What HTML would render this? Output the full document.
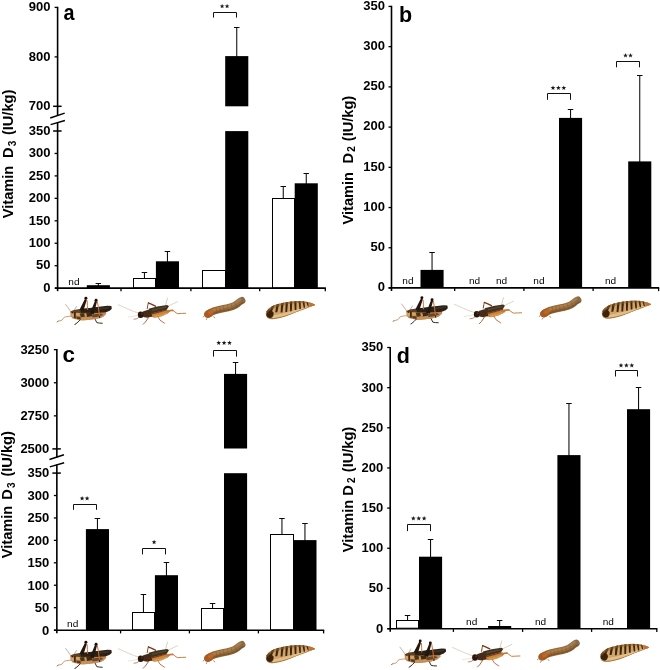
<!DOCTYPE html>
<html><head><meta charset="utf-8"><title>Vitamin D in insects</title>
<style>html,body{margin:0;padding:0;background:#fff}svg{display:block;will-change:transform}text{font-family:'Liberation Sans', sans-serif;fill:#000}</style>
</head><body>
<svg width="660" height="670" viewBox="0 0 660 670">
<rect width="660" height="670" fill="#fff"/>
<defs><filter id="soft" x="-5%" y="-20%" width="110%" height="140%"><feGaussianBlur stdDeviation="0.42"/></filter><linearGradient id="mwg" gradientUnits="userSpaceOnUse" x1="204" y1="0" x2="244" y2="0"><stop offset="0" stop-color="#a65a24"/><stop offset="0.3" stop-color="#9a6834"/><stop offset="0.7" stop-color="#96703f"/><stop offset="1" stop-color="#8a6a46"/></linearGradient><g id="insects" filter="url(#soft)"><polyline points="70.45,311.27 68.03,307.64 65.61,304.45" fill="none" stroke="#8a6444" stroke-width="0.5" stroke-linecap="round" stroke-linejoin="round" />
<polyline points="74.09,310.36 75.30,308.39 76.52,306.42" fill="none" stroke="#8a6444" stroke-width="0.5" stroke-linecap="round" stroke-linejoin="round" />
<polyline points="72.20,316.12 68.03,316.42 64.24,317.18 61.97,320.14 58.03,321.27" fill="none" stroke="#c89060" stroke-width="0.85" stroke-linecap="round" stroke-linejoin="round" />
<polyline points="58.03,321.27 57.12,321.88" fill="none" stroke="#7a5a3a" stroke-width="0.8" stroke-linecap="round" stroke-linejoin="round" />
<polygon points="70.30,311.58 74.09,310.06 80.15,309.15 90.00,308.39 99.09,307.64 105.91,311.88 106.29,313.85 102.88,316.88 96.82,318.70 91.52,319.61 84.70,320.21 80.15,320.21 75.61,319.30 72.58,318.39 70.61,315.97" fill="#b8824e" />
<polygon points="80.15,317.48 90.00,316.73 99.09,315.36 105.15,312.94 106.29,313.85 102.88,316.88 96.82,318.70 91.52,319.61 84.70,320.21 80.15,320.21" fill="#c8915a" />
<polygon points="70.61,311.58 74.09,310.06 80.15,309.00 90.00,308.09 99.09,307.03 99.09,311.88 90.00,312.64 80.15,312.94 74.09,312.48 70.91,312.64" fill="#4a3622" opacity="0.85"/>
<polygon points="80.15,309.15 90.00,308.09 99.09,307.03 99.09,311.88 90.00,312.64 80.91,312.79" fill="#2c2016" />
<polygon points="73.94,312.03 75.76,312.03 75.76,318.39 74.09,318.09" fill="#3a2a1a" />
<polygon points="79.85,313.39 84.39,312.94 85.15,316.42 80.91,317.18" fill="#4a3018" />
<polygon points="85.91,313.24 91.97,312.64 92.42,316.12 86.97,316.88" fill="#3e2a16" />
<polygon points="92.27,314.45 100.61,313.39 103.64,314.91 96.82,317.03 92.27,317.48" fill="#6a4626" />
<polygon points="76.06,316.58 80.45,316.88 80.76,319.30 76.97,319.00" fill="#553a1e" />
<polygon points="71.21,313.55 73.48,313.39 73.64,316.73 71.52,316.42" fill="#dca66a" />
<polygon points="76.06,313.09 79.55,312.94 79.85,315.97 76.36,316.27" fill="#d8a060" />
<polygon points="84.39,313.85 86.36,313.70 86.82,316.42 84.85,316.58" fill="#d09858" />
<polygon points="90.00,308.39 99.09,306.73 107.42,305.82 111.36,306.12 111.82,308.85 109.70,310.67 105.91,312.18 99.09,312.64 90.76,312.94" fill="#2a2016" />
<polygon points="99.09,308.09 107.42,307.03 110.45,307.48 107.42,308.85 99.09,309.76" fill="#3e3022" />
<polyline points="80.15,319.76 78.03,322.03 75.61,324.00" fill="none" stroke="#33261a" stroke-width="0.95" stroke-linecap="round" stroke-linejoin="round" />
<polyline points="75.61,324.00 74.70,324.45" fill="none" stroke="#33261a" stroke-width="0.7" stroke-linecap="round" stroke-linejoin="round" />
<polyline points="95.15,319.30 96.82,322.64 99.24,323.09 102.27,323.24" fill="none" stroke="#2e2218" stroke-width="0.95" stroke-linecap="round" stroke-linejoin="round" />
<polyline points="94.39,307.33 93.18,311.42 92.27,313.85" fill="none" stroke="#dcb488" stroke-width="0.8" stroke-linecap="round" stroke-linejoin="round" />
<polyline points="87.12,300.67 87.42,305.36 87.42,309.45" fill="none" stroke="#d96f3a" stroke-width="1.0" stroke-linecap="round" stroke-linejoin="round" />
<polygon points="79.39,309.91 83.48,310.52 86.82,299.76 84.85,299.00" fill="#221810" />
<circle cx="85.91" cy="298.24" r="1.45" fill="#120e0a"/>
<polyline points="97.42,301.58 98.64,309.15 99.55,316.42" fill="none" stroke="#d96f3a" stroke-width="1.0" stroke-linecap="round" stroke-linejoin="round" />
<polyline points="99.55,316.42 99.70,317.64" fill="none" stroke="#2a1a10" stroke-width="1.1" stroke-linecap="round" stroke-linejoin="round" />
<polygon points="90.00,313.39 93.79,314.30 96.97,301.58 95.00,300.82" fill="#221810" />
<circle cx="96.06" cy="300.21" r="1.45" fill="#120e0a"/>
<circle cx="72.58" cy="312.64" r="0.6" fill="#1e140c"/><polyline points="138.73,313.09 133.64,311.45 127.27,308.73 118.18,304.73" fill="none" stroke="#b09070" stroke-width="0.45" stroke-linecap="round" stroke-linejoin="round" opacity="0.85"/>
<polyline points="138.36,315.09 133.64,316.18 128.18,317.09" fill="none" stroke="#c8ae90" stroke-width="0.4" stroke-linecap="round" stroke-linejoin="round" opacity="0.8"/>
<polyline points="165.64,305.27 166.55,301.45 167.45,298.18" fill="none" stroke="#a88a68" stroke-width="0.5" stroke-linecap="round" stroke-linejoin="round" opacity="0.85"/>
<polyline points="168.36,306.18 172.73,304.00 177.64,301.64" fill="none" stroke="#b89a78" stroke-width="0.5" stroke-linecap="round" stroke-linejoin="round" opacity="0.85"/>
<polyline points="140.18,316.55 136.91,318.73 134.00,319.27" fill="none" stroke="#b87040" stroke-width="0.8" stroke-linecap="round" stroke-linejoin="round" />
<polygon points="151.45,313.82 160.00,312.18 168.18,309.64 170.18,311.27 168.18,313.27 161.82,316.36 154.55,317.64 150.55,316.73" fill="#c8843c" />
<polygon points="154.55,315.45 161.82,314.18 168.18,311.64 168.18,313.27 161.82,316.36 154.55,317.64" fill="#d69a50" />
<polygon points="142.73,311.45 148.18,309.64 151.45,310.55 152.18,316.55 147.27,317.82 143.27,317.09" fill="#4a2a14" />
<polygon points="148.55,308.73 157.27,306.55 167.27,305.09 168.91,306.36 166.73,309.64 159.09,311.64 151.45,313.45 149.45,312.00" fill="#3e3220" />
<polygon points="151.82,309.64 160.00,307.64 166.36,306.55 166.18,307.64 160.00,309.09 152.18,311.09" fill="#5a4a2e" />
<polygon points="151.45,313.09 159.09,311.27 166.73,309.27 167.27,310.36 160.00,312.55 151.82,314.55" fill="#7a3a18" />
<ellipse cx="140.73" cy="314.73" rx="2.9" ry="3.3" fill="#26170c"/>
<circle cx="141.64" cy="313.82" r="1.0" fill="#5a2e16"/>
<polyline points="147.27,308.55 147.82,305.09 148.36,302.91" fill="none" stroke="#8a4420" stroke-width="1.0" stroke-linecap="round" stroke-linejoin="round" />
<polyline points="148.36,302.91 151.82,304.36 155.45,306.18" fill="none" stroke="#7a3a1a" stroke-width="1.35" stroke-linecap="round" stroke-linejoin="round" />
<polyline points="166.73,312.00 170.00,310.55 172.73,310.36" fill="none" stroke="#c4783a" stroke-width="1.7" stroke-linecap="round" stroke-linejoin="round" />
<polyline points="172.73,310.36 177.27,313.64 181.45,313.45 185.64,313.27" fill="none" stroke="#c8803e" stroke-width="1.0" stroke-linecap="round" stroke-linejoin="round" />
<polyline points="148.73,317.27 145.27,322.18 143.27,324.18" fill="none" stroke="#a05628" stroke-width="0.9" stroke-linecap="round" stroke-linejoin="round" />
<polyline points="157.82,316.55 160.00,320.18 164.55,323.27" fill="none" stroke="#b4683a" stroke-width="0.9" stroke-linecap="round" stroke-linejoin="round" /><path d="M208.01 314.02 C212.42 310.62 217.51 309.61 223.45 308.59 S233.62 306.72 237.19 303.84 S240.83 301.12 241.77 300.62" fill="none" stroke="url(#mwg)" stroke-width="7.3" stroke-linecap="round"/>
<path d="M209.03 316.22 C213.44 312.83 218.36 311.81 223.95 310.79 S234.30 309.10 238.37 305.87 S242.11 302.99 243.12 302.31" fill="none" stroke="#6a4420" stroke-width="1.5" stroke-linecap="round" opacity="0.5"/>
<path d="M210.72 311.47 C214.12 309.10 218.36 308.08 223.45 307.06 S232.78 305.37 236.17 302.48 S239.56 299.94 240.41 299.43" fill="none" stroke="#b88a58" stroke-width="2.2" stroke-linecap="round" opacity="0.6"/>
<polyline points="215.98,307.40 217.17,312.83" fill="none" stroke="#70481f" stroke-width="0.55" stroke-linecap="round" stroke-linejoin="round" opacity="0.55"/>
<polyline points="219.71,306.72 220.56,312.15" fill="none" stroke="#70481f" stroke-width="0.55" stroke-linecap="round" stroke-linejoin="round" opacity="0.55"/>
<polyline points="223.45,306.04 224.12,311.47" fill="none" stroke="#70481f" stroke-width="0.55" stroke-linecap="round" stroke-linejoin="round" opacity="0.55"/>
<polyline points="227.35,305.37 228.20,310.62" fill="none" stroke="#70481f" stroke-width="0.55" stroke-linecap="round" stroke-linejoin="round" opacity="0.55"/>
<polyline points="231.25,304.35 232.61,309.44" fill="none" stroke="#70481f" stroke-width="0.55" stroke-linecap="round" stroke-linejoin="round" opacity="0.55"/>
<polyline points="234.64,302.14 236.85,306.72" fill="none" stroke="#70481f" stroke-width="0.55" stroke-linecap="round" stroke-linejoin="round" opacity="0.55"/>
<ellipse cx="208.86" cy="313.68" rx="5.0" ry="3.9" fill="#a95a22" transform="rotate(-28 208.86 313.68)"/>
<ellipse cx="210.72" cy="312.15" rx="3.0" ry="2.0" fill="#bb6a2c" transform="rotate(-28 210.72 312.15)" opacity="0.8"/>
<polyline points="204.11,316.22 203.09,317.07" fill="none" stroke="#6a4220" stroke-width="0.6" stroke-linecap="round" stroke-linejoin="round" />
<polyline points="206.82,318.60 206.31,319.61" fill="none" stroke="#6a4220" stroke-width="0.6" stroke-linecap="round" stroke-linejoin="round" />
<polyline points="213.78,316.73 214.62,317.92" fill="none" stroke="#6a4220" stroke-width="0.6" stroke-linecap="round" stroke-linejoin="round" /><clipPath id="zclip"><path d="M265.73 313.81 C265.90 310.42 269.63 307.45 273.03 305.84 C278.96 303.12 289.14 301.43 297.62 301.09 C304.41 300.92 310.35 302.62 314.93 304.48 L314.76 305.16 C309.50 307.03 301.86 310.08 295.93 312.28 C289.14 315.51 280.66 318.56 273.87 319.24 C269.63 319.75 265.90 318.05 265.73 313.81 Z" /></clipPath>
<path d="M265.73 313.81 C265.90 310.42 269.63 307.45 273.03 305.84 C278.96 303.12 289.14 301.43 297.62 301.09 C304.41 300.92 310.35 302.62 314.93 304.48 L314.76 305.16 C309.50 307.03 301.86 310.08 295.93 312.28 C289.14 315.51 280.66 318.56 273.87 319.24 C269.63 319.75 265.90 318.05 265.73 313.81 Z" fill="#d0a468"/>
<g clip-path="url(#zclip)">
<path d="M265.39 316.02 C275.57 316.02 289.99 312.12 315.01 303.80 L315.01 307.87 L265.39 321.45 Z" fill="#e2bf8a"/>
<polygon points="271.92,304.65 274.81,304.65 271.92,311.44 269.72,311.44" fill="#3e2610" />
<polygon points="276.59,303.12 279.30,303.12 277.27,312.28 275.23,312.28" fill="#3e2610" />
<polygon points="281.25,302.11 283.80,302.11 282.44,312.62 280.58,312.62" fill="#3e2610" />
<polygon points="285.62,301.43 288.08,301.43 287.15,312.12 285.37,312.12" fill="#3e2610" />
<polygon points="289.91,300.92 292.28,300.92 291.77,311.27 290.07,311.27" fill="#3e2610" />
<polygon points="294.19,300.58 296.48,300.58 296.39,310.08 294.78,310.08" fill="#3e2610" />
<polygon points="298.43,300.41 300.55,300.41 300.89,308.89 299.45,308.89" fill="#3e2610" />
<polygon points="302.29,300.58 304.32,300.58 305.09,307.70 303.73,307.70" fill="#3e2610" />
<polygon points="306.06,301.09 307.84,301.09 308.86,306.52 307.76,306.52" fill="#3e2610" />
<path d="M265.90 311.27 C269.63 306.18 284.05 301.26 297.62 300.92 S309.50 301.94 314.93 304.31" fill="none" stroke="#8a5a2a" stroke-width="4.2" opacity="0.55"/>
<path d="M266.07 317.20 C270.48 320.09 280.66 318.39 295.93 312.28 S309.50 307.03 314.76 305.16" fill="none" stroke="#a87640" stroke-width="1.0"/>
<ellipse cx="269.97" cy="314.15" rx="3.6" ry="3.7" fill="#3a2410" transform="rotate(20 269.97 314.15)"/>
<polygon points="265.39,312.12 268.79,308.72 271.33,308.72 267.94,312.96" fill="#6a4420" opacity="0.7"/>
<polygon points="309.16,301.60 315.44,304.14 315.10,305.50 309.50,307.20" fill="#c47030" />
</g></g></defs>
<line x1="57.60" y1="6.80" x2="57.60" y2="115.85" stroke="#000" stroke-width="1.6" />
<line x1="57.60" y1="122.35" x2="57.60" y2="291.15" stroke="#000" stroke-width="1.6" />
<line x1="50.20" y1="117.95" x2="64.70" y2="113.15" stroke="#000" stroke-width="1.5" />
<line x1="50.60" y1="124.65" x2="64.90" y2="120.45" stroke="#000" stroke-width="1.5" />
<line x1="53.10" y1="106.30" x2="61.60" y2="106.30" stroke="#000" stroke-width="1.5" />
<line x1="53.10" y1="131.00" x2="61.60" y2="131.00" stroke="#000" stroke-width="1.5" />
<line x1="54.60" y1="288.15" x2="57.60" y2="288.15" stroke="#000" stroke-width="1.3" />
<text x="50.40" y="291.85" font-size="13" font-weight="bold" text-anchor="end" >0</text>
<line x1="54.60" y1="265.70" x2="57.60" y2="265.70" stroke="#000" stroke-width="1.3" />
<text x="50.40" y="269.40" font-size="13" font-weight="bold" text-anchor="end" >50</text>
<line x1="54.60" y1="243.25" x2="57.60" y2="243.25" stroke="#000" stroke-width="1.3" />
<text x="50.40" y="246.95" font-size="13" font-weight="bold" text-anchor="end" >100</text>
<line x1="54.60" y1="220.80" x2="57.60" y2="220.80" stroke="#000" stroke-width="1.3" />
<text x="50.40" y="224.50" font-size="13" font-weight="bold" text-anchor="end" >150</text>
<line x1="54.60" y1="198.35" x2="57.60" y2="198.35" stroke="#000" stroke-width="1.3" />
<text x="50.40" y="202.05" font-size="13" font-weight="bold" text-anchor="end" >200</text>
<line x1="54.60" y1="175.90" x2="57.60" y2="175.90" stroke="#000" stroke-width="1.3" />
<text x="50.40" y="179.60" font-size="13" font-weight="bold" text-anchor="end" >250</text>
<line x1="54.60" y1="153.45" x2="57.60" y2="153.45" stroke="#000" stroke-width="1.3" />
<text x="50.40" y="157.15" font-size="13" font-weight="bold" text-anchor="end" >300</text>
<text x="50.40" y="134.70" font-size="13" font-weight="bold" text-anchor="end" >350</text>
<text x="50.40" y="110.00" font-size="13" font-weight="bold" text-anchor="end" >700</text>
<line x1="54.60" y1="56.90" x2="57.60" y2="56.90" stroke="#000" stroke-width="1.3" />
<text x="50.40" y="60.60" font-size="13" font-weight="bold" text-anchor="end" >800</text>
<line x1="54.60" y1="7.40" x2="57.60" y2="7.40" stroke="#000" stroke-width="1.3" />
<text x="50.40" y="11.10" font-size="13" font-weight="bold" text-anchor="end" >900</text>
<line x1="55.00" y1="288.15" x2="325.90" y2="288.15" stroke="#000" stroke-width="1.6" />
<line x1="121.00" y1="288.15" x2="121.00" y2="291.35" stroke="#000" stroke-width="1.3" />
<line x1="190.90" y1="288.15" x2="190.90" y2="291.35" stroke="#000" stroke-width="1.3" />
<line x1="259.70" y1="288.15" x2="259.70" y2="291.35" stroke="#000" stroke-width="1.3" />
<line x1="325.30" y1="288.15" x2="325.30" y2="291.35" stroke="#000" stroke-width="1.3" />
<text transform="translate(63.60,19.50) scale(0.92,1)" font-size="21.5" font-weight="bold">a</text>
<text transform="translate(68.30,284.60) scale(1.12,1)" font-size="9">nd</text>
<line x1="98.35" y1="283.00" x2="98.35" y2="286.20" stroke="#0a0a0a" stroke-width="1.05" />
<line x1="95.60" y1="283.50" x2="101.10" y2="283.50" stroke="#0a0a0a" stroke-width="1.0" />
<rect x="86.80" y="285.20" width="23.10" height="2.95" fill="#000"/>
<line x1="144.45" y1="272.00" x2="144.45" y2="279.00" stroke="#0a0a0a" stroke-width="1.05" />
<line x1="141.70" y1="272.50" x2="147.20" y2="272.50" stroke="#0a0a0a" stroke-width="1.0" />
<rect x="133.50" y="278.50" width="22.00" height="9.15" fill="#fff" stroke="#000" stroke-width="1.0"/>
<line x1="167.45" y1="251.00" x2="167.45" y2="262.30" stroke="#0a0a0a" stroke-width="1.05" />
<line x1="164.70" y1="251.50" x2="170.20" y2="251.50" stroke="#0a0a0a" stroke-width="1.0" />
<rect x="155.90" y="261.30" width="23.10" height="26.85" fill="#000"/>
<line x1="213.75" y1="270.00" x2="213.75" y2="271.20" stroke="#0a0a0a" stroke-width="1.05" />
<line x1="211.00" y1="270.50" x2="216.50" y2="270.50" stroke="#0a0a0a" stroke-width="1.0" />
<rect x="202.50" y="270.50" width="23.00" height="17.15" fill="#fff" stroke="#000" stroke-width="1.0"/>
<line x1="236.75" y1="27.00" x2="236.75" y2="57.10" stroke="#0a0a0a" stroke-width="1.05" />
<line x1="234.00" y1="27.50" x2="239.50" y2="27.50" stroke="#0a0a0a" stroke-width="1.0" />
<rect x="225.20" y="56.10" width="23.10" height="50.20" fill="#000"/>
<rect x="225.20" y="131.10" width="23.10" height="157.05" fill="#000"/>
<path d="M213.50 17.60 V12.50 H236.50 V17.60" fill="none" stroke="#111" stroke-width="1.0"/>
<polygon points="222.10,3.80 222.72,5.45 224.48,5.53 223.10,6.62 223.57,8.32 222.10,7.35 220.63,8.32 221.10,6.62 219.72,5.53 221.48,5.45" fill="#1a1a1a"/>
<polygon points="227.10,3.80 227.72,5.45 229.48,5.53 228.10,6.62 228.57,8.32 227.10,7.35 225.63,8.32 226.10,6.62 224.72,5.53 226.48,5.45" fill="#1a1a1a"/>
<line x1="283.25" y1="186.00" x2="283.25" y2="199.00" stroke="#0a0a0a" stroke-width="1.05" />
<line x1="280.50" y1="186.50" x2="286.00" y2="186.50" stroke="#0a0a0a" stroke-width="1.0" />
<rect x="272.50" y="198.50" width="22.00" height="89.15" fill="#fff" stroke="#000" stroke-width="1.0"/>
<line x1="306.25" y1="173.00" x2="306.25" y2="184.30" stroke="#0a0a0a" stroke-width="1.05" />
<line x1="303.50" y1="173.50" x2="309.00" y2="173.50" stroke="#0a0a0a" stroke-width="1.0" />
<rect x="294.70" y="183.30" width="23.10" height="104.85" fill="#000"/>
<text transform="translate(13.20,218.20) rotate(-90)" font-size="14.6" font-weight="bold" >Vitamin</text>
<text transform="translate(13.20,157.90) rotate(-90)" font-size="14.6" font-weight="bold" >D</text>
<text transform="translate(16.00,146.30) rotate(-90)" font-size="10" font-weight="bold" >3</text>
<text transform="translate(13.20,135.10) rotate(-90)" font-size="14.6" font-weight="bold" >(IU/kg)</text>
<line x1="391.50" y1="5.83" x2="391.50" y2="290.90" stroke="#000" stroke-width="1.6" />
<line x1="388.50" y1="287.90" x2="391.50" y2="287.90" stroke="#000" stroke-width="1.3" />
<text x="384.90" y="291.10" font-size="13" font-weight="bold" text-anchor="end" >0</text>
<line x1="388.50" y1="247.78" x2="391.50" y2="247.78" stroke="#000" stroke-width="1.3" />
<text x="384.90" y="250.97" font-size="13" font-weight="bold" text-anchor="end" >50</text>
<line x1="388.50" y1="207.55" x2="391.50" y2="207.55" stroke="#000" stroke-width="1.3" />
<text x="384.90" y="210.75" font-size="13" font-weight="bold" text-anchor="end" >100</text>
<line x1="388.50" y1="167.32" x2="391.50" y2="167.32" stroke="#000" stroke-width="1.3" />
<text x="384.90" y="170.52" font-size="13" font-weight="bold" text-anchor="end" >150</text>
<line x1="388.50" y1="127.10" x2="391.50" y2="127.10" stroke="#000" stroke-width="1.3" />
<text x="384.90" y="130.30" font-size="13" font-weight="bold" text-anchor="end" >200</text>
<line x1="388.50" y1="86.88" x2="391.50" y2="86.88" stroke="#000" stroke-width="1.3" />
<text x="384.90" y="90.08" font-size="13" font-weight="bold" text-anchor="end" >250</text>
<line x1="388.50" y1="46.65" x2="391.50" y2="46.65" stroke="#000" stroke-width="1.3" />
<text x="384.90" y="49.85" font-size="13" font-weight="bold" text-anchor="end" >300</text>
<line x1="388.50" y1="6.43" x2="391.50" y2="6.43" stroke="#000" stroke-width="1.3" />
<text x="384.90" y="9.63" font-size="13" font-weight="bold" text-anchor="end" >350</text>
<line x1="388.60" y1="287.90" x2="659.20" y2="287.90" stroke="#000" stroke-width="1.6" />
<line x1="454.70" y1="287.90" x2="454.70" y2="291.10" stroke="#000" stroke-width="1.3" />
<line x1="523.90" y1="287.90" x2="523.90" y2="291.10" stroke="#000" stroke-width="1.3" />
<line x1="593.10" y1="287.90" x2="593.10" y2="291.10" stroke="#000" stroke-width="1.3" />
<line x1="658.60" y1="287.90" x2="658.60" y2="291.10" stroke="#000" stroke-width="1.3" />
<text transform="translate(399.00,21.80) scale(1.0,1)" font-size="21.5" font-weight="bold">b</text>
<text transform="translate(402.30,283.90) scale(1.12,1)" font-size="9">nd</text>
<line x1="432.05" y1="252.00" x2="432.05" y2="270.90" stroke="#0a0a0a" stroke-width="1.05" />
<line x1="429.30" y1="252.50" x2="434.80" y2="252.50" stroke="#0a0a0a" stroke-width="1.0" />
<rect x="420.50" y="269.90" width="23.10" height="18.00" fill="#000"/>
<text transform="translate(468.90,283.90) scale(1.12,1)" font-size="9">nd</text>
<text transform="translate(495.90,283.90) scale(1.12,1)" font-size="9">nd</text>
<text transform="translate(533.30,283.90) scale(1.12,1)" font-size="9">nd</text>
<line x1="570.55" y1="109.00" x2="570.55" y2="118.90" stroke="#0a0a0a" stroke-width="1.05" />
<line x1="567.80" y1="109.50" x2="573.30" y2="109.50" stroke="#0a0a0a" stroke-width="1.0" />
<rect x="559.00" y="117.90" width="23.10" height="170.00" fill="#000"/>
<path d="M547.50 99.80 V93.50 H570.50 V99.80" fill="none" stroke="#111" stroke-width="1.0"/>
<polygon points="553.00,85.40 553.62,87.05 555.38,87.13 554.00,88.22 554.47,89.92 553.00,88.95 551.53,89.92 552.00,88.22 550.62,87.13 552.38,87.05" fill="#1a1a1a"/>
<polygon points="558.40,85.40 559.02,87.05 560.78,87.13 559.40,88.22 559.87,89.92 558.40,88.95 556.93,89.92 557.40,88.22 556.02,87.13 557.78,87.05" fill="#1a1a1a"/>
<polygon points="563.80,85.40 564.42,87.05 566.18,87.13 564.80,88.22 565.27,89.92 563.80,88.95 562.33,89.92 562.80,88.22 561.42,87.13 563.18,87.05" fill="#1a1a1a"/>
<text transform="translate(604.90,283.90) scale(1.12,1)" font-size="9">nd</text>
<line x1="639.75" y1="75.00" x2="639.75" y2="162.40" stroke="#0a0a0a" stroke-width="1.05" />
<line x1="637.00" y1="75.50" x2="642.50" y2="75.50" stroke="#0a0a0a" stroke-width="1.0" />
<rect x="628.20" y="161.40" width="23.10" height="126.50" fill="#000"/>
<path d="M616.50 67.30 V61.50 H639.50 V67.30" fill="none" stroke="#111" stroke-width="1.0"/>
<polygon points="625.50,53.00 626.12,54.65 627.88,54.73 626.50,55.82 626.97,57.52 625.50,56.55 624.03,57.52 624.50,55.82 623.12,54.73 624.88,54.65" fill="#1a1a1a"/>
<polygon points="630.50,53.00 631.12,54.65 632.88,54.73 631.50,55.82 631.97,57.52 630.50,56.55 629.03,57.52 629.50,55.82 628.12,54.73 629.88,54.65" fill="#1a1a1a"/>
<text transform="translate(352.50,224.50) rotate(-90)" font-size="14.6" font-weight="bold" >Vitamin</text>
<text transform="translate(352.50,163.60) rotate(-90)" font-size="14.6" font-weight="bold" >D</text>
<text transform="translate(355.30,151.80) rotate(-90)" font-size="10" font-weight="bold" >2</text>
<text transform="translate(352.50,141.20) rotate(-90)" font-size="14.6" font-weight="bold" >(IU/kg)</text>
<line x1="56.85" y1="349.05" x2="56.85" y2="457.45" stroke="#000" stroke-width="1.6" />
<line x1="56.85" y1="464.60" x2="56.85" y2="633.20" stroke="#000" stroke-width="1.6" />
<line x1="49.45" y1="459.55" x2="63.95" y2="454.75" stroke="#000" stroke-width="1.5" />
<line x1="49.85" y1="466.90" x2="64.15" y2="462.70" stroke="#000" stroke-width="1.5" />
<line x1="52.35" y1="448.90" x2="60.85" y2="448.90" stroke="#000" stroke-width="1.5" />
<line x1="52.35" y1="473.09" x2="60.85" y2="473.09" stroke="#000" stroke-width="1.5" />
<line x1="53.85" y1="630.20" x2="56.85" y2="630.20" stroke="#000" stroke-width="1.3" />
<text x="49.30" y="634.50" font-size="13" font-weight="bold" text-anchor="end" >0</text>
<line x1="53.85" y1="607.67" x2="56.85" y2="607.67" stroke="#000" stroke-width="1.3" />
<text x="49.30" y="611.97" font-size="13" font-weight="bold" text-anchor="end" >50</text>
<line x1="53.85" y1="585.24" x2="56.85" y2="585.24" stroke="#000" stroke-width="1.3" />
<text x="49.30" y="589.54" font-size="13" font-weight="bold" text-anchor="end" >100</text>
<line x1="53.85" y1="562.81" x2="56.85" y2="562.81" stroke="#000" stroke-width="1.3" />
<text x="49.30" y="567.11" font-size="13" font-weight="bold" text-anchor="end" >150</text>
<line x1="53.85" y1="540.38" x2="56.85" y2="540.38" stroke="#000" stroke-width="1.3" />
<text x="49.30" y="544.68" font-size="13" font-weight="bold" text-anchor="end" >200</text>
<line x1="53.85" y1="517.95" x2="56.85" y2="517.95" stroke="#000" stroke-width="1.3" />
<text x="49.30" y="522.25" font-size="13" font-weight="bold" text-anchor="end" >250</text>
<line x1="53.85" y1="495.52" x2="56.85" y2="495.52" stroke="#000" stroke-width="1.3" />
<text x="49.30" y="499.82" font-size="13" font-weight="bold" text-anchor="end" >300</text>
<text x="49.30" y="477.39" font-size="13" font-weight="bold" text-anchor="end" >350</text>
<text x="49.30" y="453.20" font-size="13" font-weight="bold" text-anchor="end" >2500</text>
<line x1="53.85" y1="415.85" x2="56.85" y2="415.85" stroke="#000" stroke-width="1.3" />
<text x="49.30" y="420.15" font-size="13" font-weight="bold" text-anchor="end" >2750</text>
<line x1="53.85" y1="382.75" x2="56.85" y2="382.75" stroke="#000" stroke-width="1.3" />
<text x="49.30" y="387.05" font-size="13" font-weight="bold" text-anchor="end" >3000</text>
<line x1="53.85" y1="349.65" x2="56.85" y2="349.65" stroke="#000" stroke-width="1.3" />
<text x="49.30" y="353.95" font-size="13" font-weight="bold" text-anchor="end" >3250</text>
<line x1="54.00" y1="630.20" x2="324.20" y2="630.20" stroke="#000" stroke-width="1.6" />
<line x1="120.60" y1="630.20" x2="120.60" y2="633.40" stroke="#000" stroke-width="1.3" />
<line x1="189.40" y1="630.20" x2="189.40" y2="633.40" stroke="#000" stroke-width="1.3" />
<line x1="258.40" y1="630.20" x2="258.40" y2="633.40" stroke="#000" stroke-width="1.3" />
<line x1="323.60" y1="630.20" x2="323.60" y2="633.40" stroke="#000" stroke-width="1.3" />
<text transform="translate(62.50,362.20) scale(1.04,1)" font-size="21.5" font-weight="bold">c</text>
<text transform="translate(67.10,627.30) scale(1.12,1)" font-size="9">nd</text>
<line x1="97.45" y1="518.00" x2="97.45" y2="530.10" stroke="#0a0a0a" stroke-width="1.05" />
<line x1="94.70" y1="518.50" x2="100.20" y2="518.50" stroke="#0a0a0a" stroke-width="1.0" />
<rect x="85.90" y="529.10" width="23.10" height="101.10" fill="#000"/>
<path d="M73.50 509.80 V504.50 H96.50 V509.80" fill="none" stroke="#111" stroke-width="1.0"/>
<polygon points="82.10,495.90 82.72,497.55 84.48,497.63 83.10,498.72 83.57,500.42 82.10,499.45 80.63,500.42 81.10,498.72 79.72,497.63 81.48,497.55" fill="#1a1a1a"/>
<polygon points="87.10,495.90 87.72,497.55 89.48,497.63 88.10,498.72 88.57,500.42 87.10,499.45 85.63,500.42 86.10,498.72 84.72,497.63 86.48,497.55" fill="#1a1a1a"/>
<line x1="143.45" y1="594.00" x2="143.45" y2="612.90" stroke="#0a0a0a" stroke-width="1.05" />
<line x1="140.70" y1="594.50" x2="146.20" y2="594.50" stroke="#0a0a0a" stroke-width="1.0" />
<rect x="132.50" y="612.50" width="22.00" height="17.20" fill="#fff" stroke="#000" stroke-width="1.0"/>
<line x1="166.45" y1="562.00" x2="166.45" y2="576.20" stroke="#0a0a0a" stroke-width="1.05" />
<line x1="163.70" y1="562.50" x2="169.20" y2="562.50" stroke="#0a0a0a" stroke-width="1.0" />
<rect x="154.90" y="575.20" width="23.10" height="55.00" fill="#000"/>
<path d="M142.50 554.40 V548.50 H165.50 V554.40" fill="none" stroke="#111" stroke-width="1.0"/>
<polygon points="154.10,539.70 154.72,541.35 156.48,541.43 155.10,542.52 155.57,544.22 154.10,543.25 152.63,544.22 153.10,542.52 151.72,541.43 153.48,541.35" fill="#1a1a1a"/>
<line x1="212.55" y1="603.00" x2="212.55" y2="609.30" stroke="#0a0a0a" stroke-width="1.05" />
<line x1="209.80" y1="603.50" x2="215.30" y2="603.50" stroke="#0a0a0a" stroke-width="1.0" />
<rect x="201.50" y="608.50" width="22.00" height="21.20" fill="#fff" stroke="#000" stroke-width="1.0"/>
<line x1="235.55" y1="362.00" x2="235.55" y2="374.90" stroke="#0a0a0a" stroke-width="1.05" />
<line x1="232.80" y1="362.50" x2="238.30" y2="362.50" stroke="#0a0a0a" stroke-width="1.0" />
<rect x="224.00" y="373.90" width="23.10" height="74.60" fill="#000"/>
<rect x="224.00" y="473.20" width="23.10" height="157.00" fill="#000"/>
<path d="M213.50 356.60 V350.50 H236.50 V356.60" fill="none" stroke="#111" stroke-width="1.0"/>
<polygon points="218.70,340.40 219.32,342.05 221.08,342.13 219.70,343.22 220.17,344.92 218.70,343.95 217.23,344.92 217.70,343.22 216.32,342.13 218.08,342.05" fill="#1a1a1a"/>
<polygon points="224.10,340.40 224.72,342.05 226.48,342.13 225.10,343.22 225.57,344.92 224.10,343.95 222.63,344.92 223.10,343.22 221.72,342.13 223.48,342.05" fill="#1a1a1a"/>
<polygon points="229.50,340.40 230.12,342.05 231.88,342.13 230.50,343.22 230.97,344.92 229.50,343.95 228.03,344.92 228.50,343.22 227.12,342.13 228.88,342.05" fill="#1a1a1a"/>
<line x1="281.95" y1="518.00" x2="281.95" y2="535.50" stroke="#0a0a0a" stroke-width="1.05" />
<line x1="279.20" y1="518.50" x2="284.70" y2="518.50" stroke="#0a0a0a" stroke-width="1.0" />
<rect x="270.50" y="534.50" width="23.00" height="95.20" fill="#fff" stroke="#000" stroke-width="1.0"/>
<line x1="304.95" y1="523.00" x2="304.95" y2="541.10" stroke="#0a0a0a" stroke-width="1.05" />
<line x1="302.20" y1="523.50" x2="307.70" y2="523.50" stroke="#0a0a0a" stroke-width="1.0" />
<rect x="293.40" y="540.10" width="23.10" height="90.10" fill="#000"/>
<text transform="translate(11.70,558.20) rotate(-90)" font-size="14.6" font-weight="bold" >Vitamin</text>
<text transform="translate(11.70,499.70) rotate(-90)" font-size="14.6" font-weight="bold" >D</text>
<text transform="translate(14.50,488.10) rotate(-90)" font-size="10" font-weight="bold" >3</text>
<text transform="translate(11.70,476.60) rotate(-90)" font-size="14.6" font-weight="bold" >(IU/kg)</text>
<line x1="390.20" y1="346.90" x2="390.20" y2="631.70" stroke="#000" stroke-width="1.6" />
<line x1="387.20" y1="628.70" x2="390.20" y2="628.70" stroke="#000" stroke-width="1.3" />
<text x="383.20" y="632.60" font-size="13" font-weight="bold" text-anchor="end" >0</text>
<line x1="387.20" y1="588.40" x2="390.20" y2="588.40" stroke="#000" stroke-width="1.3" />
<text x="383.20" y="592.30" font-size="13" font-weight="bold" text-anchor="end" >50</text>
<line x1="387.20" y1="548.25" x2="390.20" y2="548.25" stroke="#000" stroke-width="1.3" />
<text x="383.20" y="552.15" font-size="13" font-weight="bold" text-anchor="end" >100</text>
<line x1="387.20" y1="508.10" x2="390.20" y2="508.10" stroke="#000" stroke-width="1.3" />
<text x="383.20" y="512.00" font-size="13" font-weight="bold" text-anchor="end" >150</text>
<line x1="387.20" y1="467.95" x2="390.20" y2="467.95" stroke="#000" stroke-width="1.3" />
<text x="383.20" y="471.85" font-size="13" font-weight="bold" text-anchor="end" >200</text>
<line x1="387.20" y1="427.80" x2="390.20" y2="427.80" stroke="#000" stroke-width="1.3" />
<text x="383.20" y="431.70" font-size="13" font-weight="bold" text-anchor="end" >250</text>
<line x1="387.20" y1="387.65" x2="390.20" y2="387.65" stroke="#000" stroke-width="1.3" />
<text x="383.20" y="391.55" font-size="13" font-weight="bold" text-anchor="end" >300</text>
<line x1="387.20" y1="347.50" x2="390.20" y2="347.50" stroke="#000" stroke-width="1.3" />
<text x="383.20" y="351.40" font-size="13" font-weight="bold" text-anchor="end" >350</text>
<line x1="387.40" y1="628.70" x2="657.40" y2="628.70" stroke="#000" stroke-width="1.6" />
<line x1="453.40" y1="628.70" x2="453.40" y2="631.90" stroke="#000" stroke-width="1.3" />
<line x1="522.60" y1="628.70" x2="522.60" y2="631.90" stroke="#000" stroke-width="1.3" />
<line x1="591.60" y1="628.70" x2="591.60" y2="631.90" stroke="#000" stroke-width="1.3" />
<line x1="656.80" y1="628.70" x2="656.80" y2="631.90" stroke="#000" stroke-width="1.3" />
<text transform="translate(396.80,363.10) scale(1.0,1)" font-size="21.5" font-weight="bold">d</text>
<line x1="407.55" y1="615.00" x2="407.55" y2="620.50" stroke="#0a0a0a" stroke-width="1.05" />
<line x1="404.80" y1="615.50" x2="410.30" y2="615.50" stroke="#0a0a0a" stroke-width="1.0" />
<rect x="396.50" y="620.50" width="22.00" height="7.70" fill="#fff" stroke="#000" stroke-width="1.0"/>
<line x1="430.55" y1="539.00" x2="430.55" y2="557.70" stroke="#0a0a0a" stroke-width="1.05" />
<line x1="427.80" y1="539.50" x2="433.30" y2="539.50" stroke="#0a0a0a" stroke-width="1.0" />
<rect x="419.00" y="556.70" width="23.10" height="72.00" fill="#000"/>
<path d="M407.50 531.10 V524.50 H430.50 V531.10" fill="none" stroke="#111" stroke-width="1.0"/>
<polygon points="413.35,515.90 413.97,517.55 415.73,517.63 414.35,518.72 414.82,520.42 413.35,519.45 411.88,520.42 412.35,518.72 410.97,517.63 412.73,517.55" fill="#1a1a1a"/>
<polygon points="418.75,515.90 419.37,517.55 421.13,517.63 419.75,518.72 420.22,520.42 418.75,519.45 417.28,520.42 417.75,518.72 416.37,517.63 418.13,517.55" fill="#1a1a1a"/>
<polygon points="424.15,515.90 424.77,517.55 426.53,517.63 425.15,518.72 425.62,520.42 424.15,519.45 422.68,520.42 423.15,518.72 421.77,517.63 423.53,517.55" fill="#1a1a1a"/>
<text transform="translate(466.10,625.00) scale(1.12,1)" font-size="9">nd</text>
<line x1="499.65" y1="620.00" x2="499.65" y2="627.00" stroke="#0a0a0a" stroke-width="1.05" />
<line x1="496.90" y1="620.50" x2="502.40" y2="620.50" stroke="#0a0a0a" stroke-width="1.0" />
<rect x="488.10" y="626.00" width="23.10" height="2.70" fill="#000"/>
<text transform="translate(534.90,625.00) scale(1.12,1)" font-size="9">nd</text>
<line x1="568.95" y1="403.00" x2="568.95" y2="456.10" stroke="#0a0a0a" stroke-width="1.05" />
<line x1="566.20" y1="403.50" x2="571.70" y2="403.50" stroke="#0a0a0a" stroke-width="1.0" />
<rect x="557.40" y="455.10" width="23.10" height="173.60" fill="#000"/>
<text transform="translate(602.70,625.00) scale(1.12,1)" font-size="9">nd</text>
<line x1="638.55" y1="387.00" x2="638.55" y2="410.20" stroke="#0a0a0a" stroke-width="1.05" />
<line x1="635.80" y1="387.50" x2="641.30" y2="387.50" stroke="#0a0a0a" stroke-width="1.0" />
<rect x="627.00" y="409.20" width="23.10" height="219.50" fill="#000"/>
<path d="M615.50 376.50 V370.50 H637.50 V376.50" fill="none" stroke="#111" stroke-width="1.0"/>
<polygon points="621.00,362.90 621.62,364.55 623.38,364.63 622.00,365.72 622.47,367.42 621.00,366.45 619.53,367.42 620.00,365.72 618.62,364.63 620.38,364.55" fill="#1a1a1a"/>
<polygon points="626.40,362.90 627.02,364.55 628.78,364.63 627.40,365.72 627.87,367.42 626.40,366.45 624.93,367.42 625.40,365.72 624.02,364.63 625.78,364.55" fill="#1a1a1a"/>
<polygon points="631.80,362.90 632.42,364.55 634.18,364.63 632.80,365.72 633.27,367.42 631.80,366.45 630.33,367.42 630.80,365.72 629.42,364.63 631.18,364.55" fill="#1a1a1a"/>
<text transform="translate(352.50,552.20) rotate(-90)" font-size="14.6" font-weight="bold" >Vitamin</text>
<text transform="translate(352.50,495.70) rotate(-90)" font-size="14.6" font-weight="bold" >D</text>
<text transform="translate(355.30,483.00) rotate(-90)" font-size="10" font-weight="bold" >2</text>
<text transform="translate(352.50,472.20) rotate(-90)" font-size="14.6" font-weight="bold" >(IU/kg)</text>
<use href="#insects" x="0" y="0"/>
<use href="#insects" x="336.0" y="-0.5"/>
<use href="#insects" x="0" y="344.0"/>
<use href="#insects" x="334.3" y="342.7"/>
</svg></body></html>
